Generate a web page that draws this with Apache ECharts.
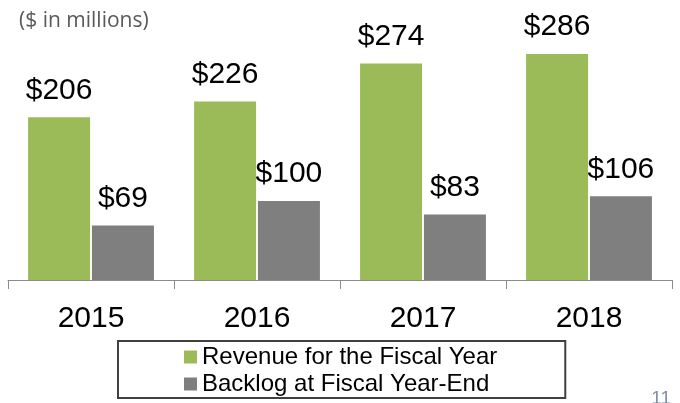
<!DOCTYPE html>
<html>
<head>
<meta charset="utf-8">
<script src="https://cdn.jsdelivr.net/npm/echarts@6/dist/echarts.min.js"></script>
<style>
html,body{margin:0;padding:0;background:#fff;}
#chart{width:680px;height:403px;}
</style>
</head>
<body>
<div id="chart"></div>
<script>
var categories = ['2015', '2016', '2017', '2018'];
var revenue = [206, 226, 274, 286];
var backlog = [69, 100, 83, 106];
var seriesNames = ['Revenue for the Fiscal Year', 'Backlog at Fiscal Year-End'];

var chart = echarts.init(document.getElementById('chart'));
var font = '"Liberation Sans", Arial, sans-serif';
var labelCfg = {
  show: true, position: 'top', distance: 12,
  formatter: function (p) { return '$' + p.value; },
  fontSize: 30, color: '#000', fontFamily: font
};
chart.setOption({
  animation: false,
  backgroundColor: '#fff',
  title: [{
    text: '($ in millions)', left: 14, top: 6,
    textStyle: { fontSize: 21, fontWeight: 'normal', color: '#595959', fontFamily: '"Open Sans", sans-serif' }
  }, {
    text: '11', right: 4, top: 384,
    textStyle: { fontSize: 19, fontWeight: 'normal', color: '#8090a0', fontFamily: font }
  }],
  legend: {
    orient: 'vertical', left: 118, top: 341,
    padding: [4, 68, 2, 66],
    borderColor: '#404040', borderWidth: 2,
    itemWidth: 13, itemHeight: 13, itemGap: 3,
    icon: 'rect',
    textStyle: { fontSize: 24, color: '#000', fontFamily: font },
    data: seriesNames
  },
  grid: { left: 8, right: 8, top: 43, bottom: 123 },
  xAxis: {
    type: 'category', data: categories,
    axisLine: { lineStyle: { color: '#8c8c8c', width: 1 } },
    axisTick: { show: true, length: 9, lineStyle: { color: '#8c8c8c' } },
    axisLabel: { fontSize: 30, color: '#000', margin: 24, fontFamily: font }
  },
  yAxis: { type: 'value', min: 0, max: 300, show: false, splitLine: { show: false } },
  series: [{
    name: seriesNames[0], type: 'bar', data: revenue,
    barWidth: 62, barGap: '3%',
    itemStyle: { color: '#9bbb59' }, label: labelCfg
  }, {
    name: seriesNames[1], type: 'bar', data: backlog,
    barWidth: 62, barGap: '3%',
    itemStyle: { color: '#7f7f7f' }, label: labelCfg
  }]
});
</script>
</body>
</html>
